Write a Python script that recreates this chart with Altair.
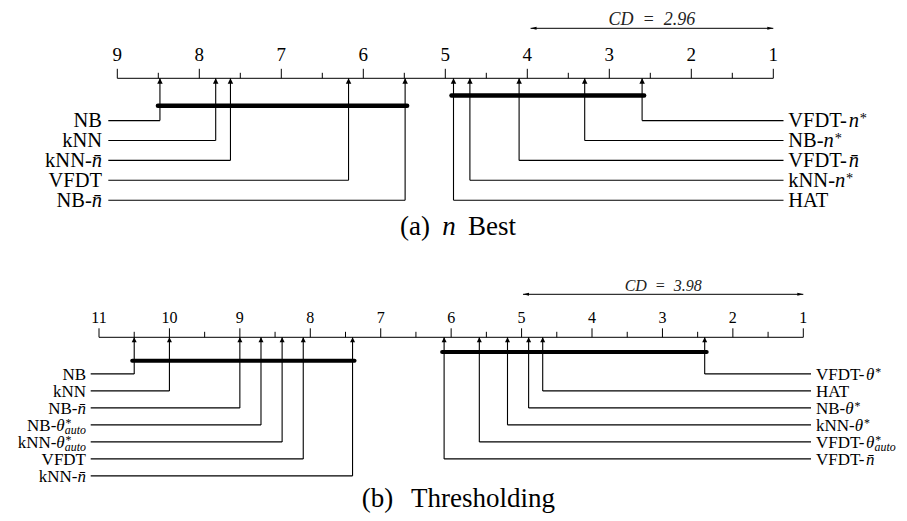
import math
import altair as alt
import pandas as pd

# ---------------- data ----------------
methods_a = ["NB", "kNN", "kNN-n\u0304", "VFDT", "NB-n\u0304",
             "HAT", "kNN-n*", "VFDT-n\u0304", "NB-n*", "VFDT-n*"]
ranks_a = [8.48, 7.80, 7.62, 6.18, 5.49, 4.90, 4.70, 4.10, 3.30, 2.60]
cd_a = 2.96
clique_from_a = [8.48, 4.90]
clique_to_a = [5.49, 2.60]
ticks_a = [9, 8, 7, 6, 5, 4, 3, 2, 1]
caption_a = "(a) $n$ Best"

methods_b = ["NB", "kNN", "NB-n\u0304", "NB-\u03b8*_auto", "kNN-\u03b8*_auto", "VFDT", "kNN-n\u0304",
             "VFDT-n\u0304", "VFDT-\u03b8*_auto", "kNN-\u03b8*", "NB-\u03b8*", "HAT", "VFDT-\u03b8*"]
ranks_b = [10.50, 10.00, 9.00, 8.70, 8.40, 8.10, 7.40, 6.10, 5.60, 5.20, 4.90, 4.70, 2.40]
cd_b = 3.98
clique_from_b = [10.50, 6.10]
clique_to_b = [7.40, 2.40]
ticks_b = [11, 10, 9, 8, 7, 6, 5, 4, 3, 2, 1]
caption_b = "(b) Thresholding"

# ---------------- layout (page pixels) ----------------
FONT = "Liberation Serif, DejaVu Serif, serif"
OFF = 8.0


def P(v):
    return v - OFF


LAYOUT = {
    "a": dict(x0=117.3, x1=773.3, axis_y=78.3, major=9.5, minor=5.5, tick_y=60.5, tick_fs=19,
              cd_y=28.3, cd_text_y=25.0, cd_fs=18, clique_y=[105.7, 95.5], clique_w=4.5,
              row0=120.6, row_dy=19.9, left_end=108.3, left_text=102.0,
              right_end=783.5, right_text=788.3, label_fs=20.5, head=5.5,
              cap_y=235.0, cap_fs=27, cap_x=[400.0, 442.2, 468.0]),
    "b": dict(x0=99.0, x1=803.3, axis_y=337.3, major=9.0, minor=5.5, tick_y=323.3, tick_fs=16,
              cd_y=294.3, cd_text_y=290.7, cd_fs=16, clique_y=[360.7, 352.0], clique_w=4.0,
              row0=373.9, row_dy=17.0, left_end=90.7, left_text=86.0,
              right_end=811.0, right_text=816.0, label_fs=17, head=5.0,
              cap_y=507.0, cap_fs=27, cap_x=[361.7, 411.0]),
}

# Times / Liberation Serif advance widths (1/1000 em)
W_REG = {"N": 722, "B": 667, "k": 500, "V": 722, "F": 556, "D": 722, "T": 611, "H": 722,
         "A": 722, "-": 333, "*": 500, " ": 250, "(": 333, ")": 333, "a": 444, "b": 500,
         "e": 444, "s": 389, "t": 278, "h": 500, "r": 333, "o": 500, "l": 278, "d": 500,
         "i": 278, "n": 500, "g": 500, "\u03b8": 500, "\u0304": 0}
W_IT = {"n": 500, "a": 500, "u": 500, "t": 278, "o": 500, "\u03b8": 500, "\u0304": 0, "*": 500}


def tw(s, italic, size):
    tbl = W_IT if italic else W_REG
    return sum(tbl.get(c, 500) for c in s) * size / 1000.0


def label_segments(name, size):
    segs = []
    if "-" in name:
        pre, suf = name.split("-", 1)
        pre += "-"
    else:
        pre, suf = name, ""
    segs.append(dict(text=pre, italic=False, fs=size, dx=0.0, dy=0.0))
    x = tw(pre, False, size)
    if suf:
        sub = ""
        if "_" in suf:
            suf, sub = suf.split("_", 1)
        star = suf.endswith("*")
        core = suf.rstrip("*")
        segs.append(dict(text=core, italic=True, fs=size, dx=x, dy=0.0))
        x += tw(core, True, size)
        small = 0.7 * size
        ext = 0.0
        if star:
            segs.append(dict(text="*", italic=False, fs=small, dx=x + 0.04 * size, dy=-0.2 * size))
            ext = max(ext, 0.04 * size + tw("*", False, small))
        if sub:
            segs.append(dict(text=sub, italic=True, fs=small, dx=x, dy=0.2 * size))
            ext = max(ext, tw(sub, True, small))
        x += ext
    return segs, x


UP_HEAD = "M0,0L0.5,1L-0.5,1Z"
LEFT_HEAD = "M0,0L1,-0.25L1,0.25Z"
RIGHT_HEAD = "M0,0L-1,-0.25L-1,0.25Z"


def panel_layers(key, methods, ranks, cd, cfrom, cto, ticks, caption):
    L = LAYOUT[key]
    xs = alt.Scale(domain=[max(ticks), min(ticks)], range=[P(L["x0"]), P(L["x1"])],
                   nice=False, zero=False)

    def X(f):
        return alt.X(f, type="quantitative", scale=xs, axis=None)

    YP = alt.Y("y:Q", scale=None, axis=None)
    ax = P(L["axis_y"])
    layers = []

    # axis line + ticks + tick labels
    df_axis = pd.DataFrame({"lo": [max(ticks)], "hi": [min(ticks)]})
    layers.append(alt.Chart(df_axis).mark_rule(color="black", strokeWidth=1)
                  .encode(x=X("lo"), x2="hi", y=alt.value(ax)))
    df_major = pd.DataFrame({"t": ticks, "lab": [str(t) for t in ticks]})
    layers.append(alt.Chart(df_major).mark_rule(color="black", strokeWidth=1)
                  .encode(x=X("t"), y=alt.value(ax - L["major"]), y2=alt.value(ax)))
    df_minor = pd.DataFrame({"t": [(a + b) / 2 for a, b in zip(ticks, ticks[1:])]})
    layers.append(alt.Chart(df_minor).mark_rule(color="black", strokeWidth=1)
                  .encode(x=X("t"), y=alt.value(ax - L["minor"]), y2=alt.value(ax)))
    layers.append(alt.Chart(df_major).mark_text(font=FONT, fontSize=L["tick_fs"], align="center",
                                                baseline="alphabetic", color="black")
                  .encode(x=X("t"), y=alt.value(P(L["tick_y"])), text="lab:N"))

    # critical difference bar
    best = min(ticks)
    df_cd = pd.DataFrame({"a": [best], "b": [best + cd], "mid": [best + cd / 2],
                          "lab": [f"CD\u2002=\u2002{cd:.2f}"]})
    cy = P(L["cd_y"])
    layers.append(alt.Chart(df_cd).mark_rule(color="black", strokeWidth=1)
                  .encode(x=X("a"), x2="b", y=alt.value(cy)))
    layers.append(alt.Chart(df_cd).mark_point(shape=LEFT_HEAD, filled=True, size=144, opacity=1,
                                              color="black", strokeWidth=0)
                  .encode(x=X("b"), y=alt.value(cy)))
    layers.append(alt.Chart(df_cd).mark_point(shape=RIGHT_HEAD, filled=True, size=144, opacity=1,
                                              color="black", strokeWidth=0)
                  .encode(x=X("a"), y=alt.value(cy)))
    layers.append(alt.Chart(df_cd).mark_text(font=FONT, fontSize=L["cd_fs"], fontStyle="italic",
                                             align="center", baseline="alphabetic", color="#222222")
                  .encode(x=X("mid"), y=alt.value(P(L["cd_text_y"])), text="lab:N"))

    # cliques (groups not significantly different)
    df_cl = pd.DataFrame({"f": cfrom, "t": cto,
                          "y": [P(v) for v in L["clique_y"][:len(cfrom)]]})
    layers.append(alt.Chart(df_cl).mark_rule(color="black", strokeWidth=L["clique_w"],
                                             strokeCap="round", xOffset=-2, x2Offset=2)
                  .encode(x=X("f"), x2="t", y=YP))

    # methods: left half (worst) and right half (best)
    k = len(ranks)
    order = sorted(range(k), key=lambda i: -ranks[i])
    nleft = math.ceil(k / 2)
    left = order[:nleft]
    right = sorted(order[nleft:], key=lambda i: ranks[i])
    rows = []
    for side, idx in (("L", left), ("R", right)):
        for r, i in enumerate(idx):
            rows.append(dict(side=side, rank=ranks[i], name=methods[i],
                             y=P(L["row0"] + r * L["row_dy"])))
    df_m = pd.DataFrame(rows)
    layers.append(alt.Chart(df_m).mark_rule(color="black", strokeWidth=1.1)
                  .encode(x=X("rank"), y=YP, y2=alt.value(ax)))
    layers.append(alt.Chart(df_m[df_m.side == "L"]).mark_rule(color="black", strokeWidth=1.1)
                  .encode(x=X("rank"), x2=alt.value(P(L["left_end"])), y=YP))
    layers.append(alt.Chart(df_m[df_m.side == "R"]).mark_rule(color="black", strokeWidth=1.1)
                  .encode(x=X("rank"), x2=alt.value(P(L["right_end"])), y=YP))
    hs = (2 * L["head"]) ** 2
    layers.append(alt.Chart(df_m).mark_point(shape=UP_HEAD, filled=True, size=hs, opacity=1,
                                             color="black", strokeWidth=0)
                  .encode(x=X("rank"), y=alt.value(ax)))

    # text segments (labels and caption)
    segs = []
    fs = L["label_fs"]
    for row in rows:
        parts, width = label_segments(row["name"], fs)
        start = P(L["left_text"]) - width if row["side"] == "L" else P(L["right_text"])
        base = row["y"] + 0.33 * fs
        for s in parts:
            segs.append(dict(x=start + s["dx"], y=base + s["dy"], text=s["text"],
                             fs=round(s["fs"], 2), italic=s["italic"]))
    for tok, cx in zip(caption.split(" "), L["cap_x"]):
        it = tok.startswith("$")
        segs.append(dict(x=P(cx), y=P(L["cap_y"]), text=tok.strip("$"), fs=L["cap_fs"], italic=it))
    df_s = pd.DataFrame(segs)
    for (it, f), g in df_s.groupby(["italic", "fs"]):
        layers.append(alt.Chart(g).mark_text(font=FONT, fontSize=float(f),
                                             fontStyle="italic" if it else "normal",
                                             align="left", baseline="alphabetic", color="black")
                      .encode(x=alt.X("x:Q", scale=None, axis=None), y=YP, text="text:N"))
    return layers


layers = (panel_layers("a", methods_a, ranks_a, cd_a, clique_from_a, clique_to_a, ticks_a, caption_a)
          + panel_layers("b", methods_b, ranks_b, cd_b, clique_from_b, clique_to_b, ticks_b, caption_b))

chart = (alt.layer(*layers)
         .resolve_scale(x="independent", y="independent")
         .properties(width=891, height=505, autosize=alt.AutoSizeParams(type="none"), padding=0,
                     background="white")
         .configure_view(stroke=None))

chart.save("out.html", embed_options={"renderer": "svg", "actions": False})
